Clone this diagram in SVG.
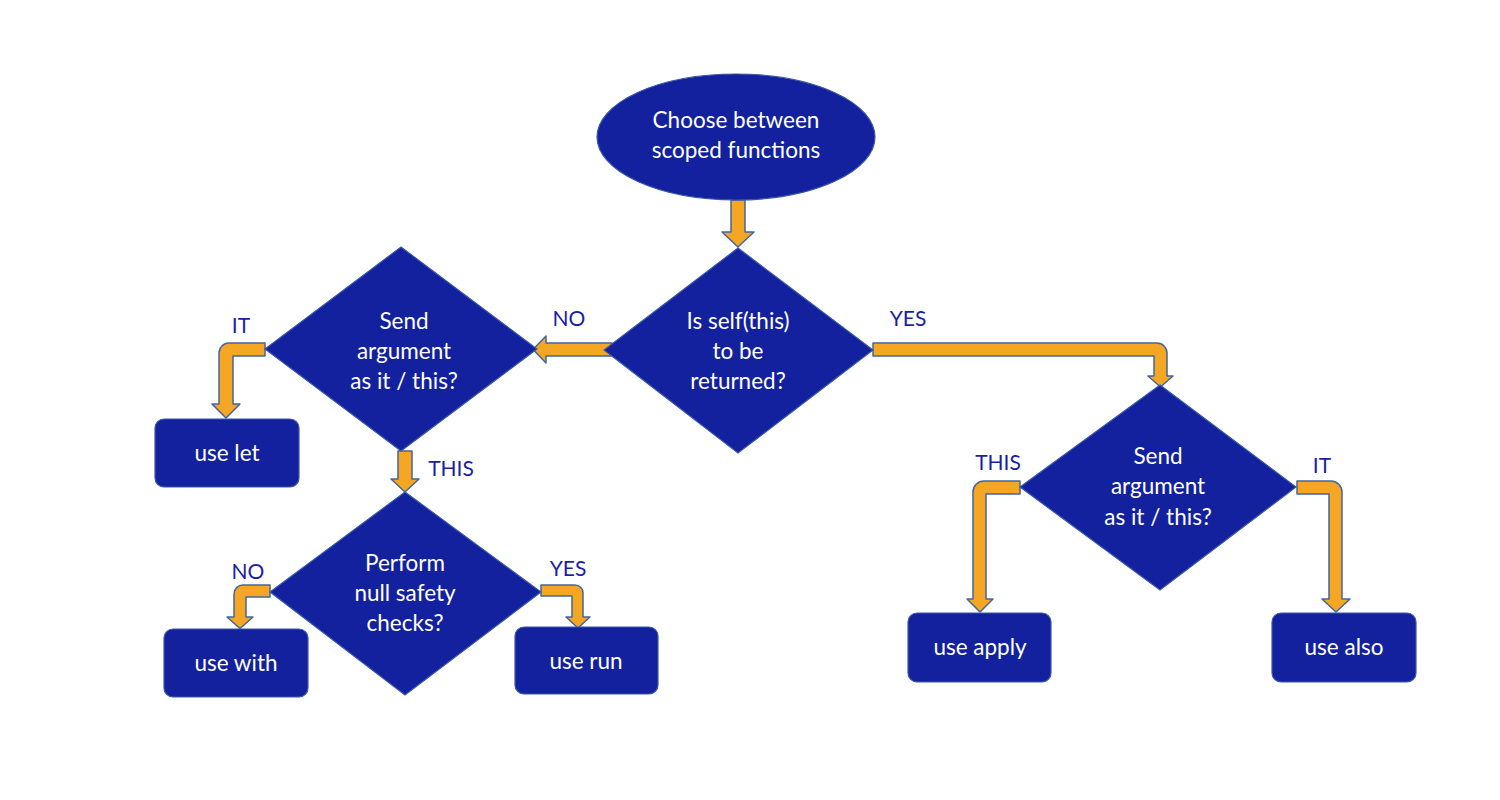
<svg xmlns="http://www.w3.org/2000/svg" width="1500" height="800" viewBox="0 0 1500 800">
<style>
.shape{fill:#13219e;stroke:#3a58a8;stroke-width:1.2}
.arrow{fill:#f5a623;stroke:#41679e;stroke-width:1.5;stroke-linejoin:round}
.t{font-family:Lato,"Open Sans","Liberation Sans",sans-serif;font-size:22.5px;fill:#ffffff;text-anchor:middle}
.lbl{font-family:Lato,"Open Sans","Liberation Sans",sans-serif;font-size:21px;fill:#1a1ea6;text-anchor:middle}
</style>
<rect width="1500" height="800" fill="#ffffff"/>
<g id="connectors">
<path class="arrow" d="M731,200 H745 V232 H754 L738,247 L722,232 H731 Z"/>
<path class="arrow" d="M612,343 V356 H546 V363 L533,349.5 L546,336 V343 Z"/>
<path class="arrow" d="M873,343 H1157 A10,10 0 0 1 1167,353 V376 H1173 L1160.5,387 L1148,376 H1154 V356 H873 Z"/>
<path class="arrow" d="M265,343 V356 H233 V404 H240 L226,418 L212,404 H219 V353 A10,10 0 0 1 229,343 Z"/>
<path class="arrow" d="M398,451 H412 V479 H419 L405,492 L391,479 H398 Z"/>
<path class="arrow" d="M270,585 V597 H246 V617 H253 L240,628.5 L227,617 H234 V594 A9,9 0 0 1 243,585 Z"/>
<path class="arrow" d="M541,585 H575 A8,8 0 0 1 583,593 V617 H590 L578,628 L566,617 H572 V596 H541 Z"/>
<path class="arrow" d="M1020,481 V494 H986 V599 H993 L980,612 L967,599 H973 V492 A11,11 0 0 1 984,481 Z"/>
<path class="arrow" d="M1297,481 H1331 A11,11 0 0 1 1342,492 V599 H1350 L1336,612 L1322,599 H1329 V494 H1297 Z"/>
<text class="lbl" x="569" y="326">NO</text>
<text class="lbl" x="908" y="326">YES</text>
<text class="lbl" x="241" y="333">IT</text>
<text class="lbl" x="451" y="476">THIS</text>
<text class="lbl" x="998" y="470">THIS</text>
<text class="lbl" x="1322" y="473">IT</text>
<text class="lbl" x="248" y="579">NO</text>
<text class="lbl" x="568" y="576">YES</text>
</g>
<g id="start">
<ellipse class="shape" cx="736" cy="137" rx="139" ry="63"/>
<text class="t" x="736" y="128">Choose between</text>
<text class="t" x="736" y="158">scoped functions</text>
</g>
<g id="q-self">
<polygon class="shape" points="738,248 873,350 738,453 604,350"/>
<text class="t" x="738" y="329">Is self(this)</text>
<text class="t" x="738" y="359">to be</text>
<text class="t" x="738" y="389">returned?</text>
</g>
<g id="q-arg-left">
<polygon class="shape" points="401,247 537,349 401,451 265,349"/>
<text class="t" x="404" y="329">Send</text>
<text class="t" x="404" y="359">argument</text>
<text class="t" x="404" y="389">as it / this?</text>
</g>
<g id="q-null">
<polygon class="shape" points="405,492 541,592 405,695 270,592"/>
<text class="t" x="405" y="571">Perform</text>
<text class="t" x="405" y="601">null safety</text>
<text class="t" x="405" y="631">checks?</text>
</g>
<g id="q-arg-right">
<polygon class="shape" points="1160,385 1296,487 1160,590 1020,487"/>
<text class="t" x="1158" y="464">Send</text>
<text class="t" x="1158" y="494">argument</text>
<text class="t" x="1158" y="525">as it / this?</text>
</g>
<g id="use-let">
<rect class="shape" x="155" y="419" width="144" height="68" rx="9"/>
<text class="t" x="227" y="461">use let</text>
</g>
<g id="use-with">
<rect class="shape" x="164" y="629" width="144" height="68" rx="9"/>
<text class="t" x="236" y="671">use with</text>
</g>
<g id="use-run">
<rect class="shape" x="515" y="627" width="143" height="67" rx="9"/>
<text class="t" x="586" y="669">use run</text>
</g>
<g id="use-apply">
<rect class="shape" x="908" y="613" width="143" height="69" rx="9"/>
<text class="t" x="980" y="655">use apply</text>
</g>
<g id="use-also">
<rect class="shape" x="1272" y="613" width="144" height="69" rx="9"/>
<text class="t" x="1344" y="655">use also</text>
</g>
</svg>
